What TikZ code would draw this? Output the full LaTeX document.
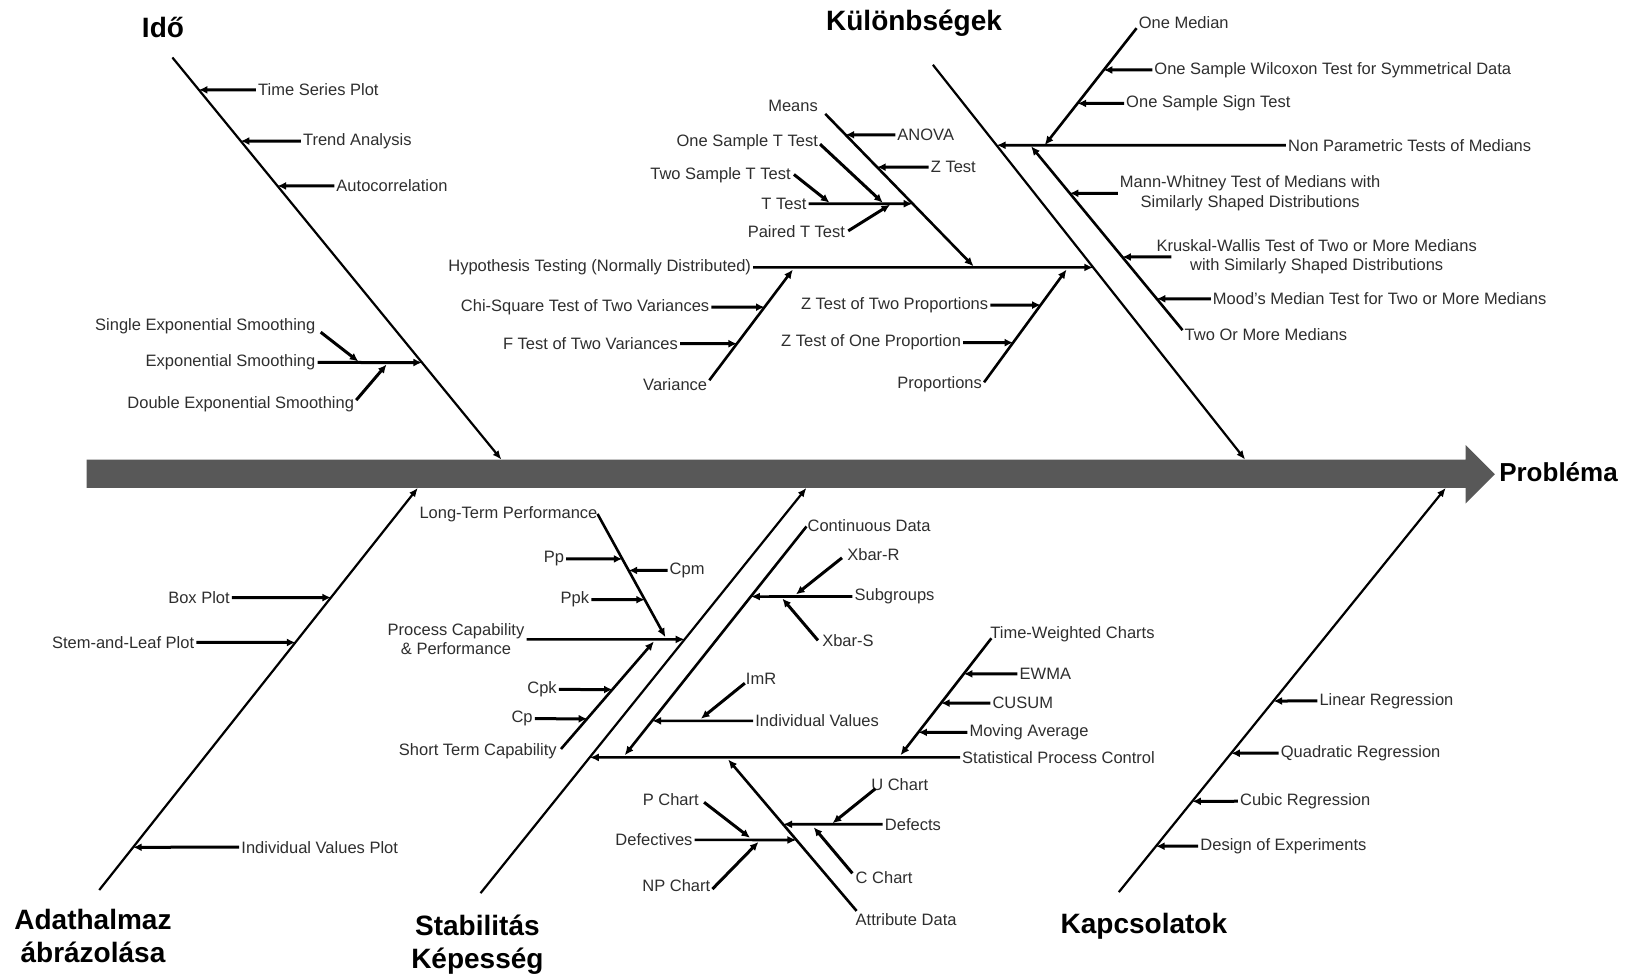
\documentclass[tikz,border=0pt]{standalone}
\usepackage{fontspec}
\setmainfont{Liberation Sans}
\usetikzlibrary{arrows.meta}

\definecolor{spinegray}{RGB}{88,88,88}
\tikzset{
	bone/.style={line width=2.2pt, -{Latex[length=9pt,width=7.5pt]}},
	branch/.style={line width=2.6pt, -{Latex[length=9pt,width=8pt]}},
	leaf/.style={line width=3pt, -{Latex[length=8.5pt,width=8pt]}},
	lbl/.style={font=\fontsize{16.5}{19.5}\selectfont, text=black!82, inner sep=2pt},
	head/.style={font=\fontsize{28}{33}\selectfont\bfseries, inner sep=0pt, align=center},
}

\begin{document}
\begin{tikzpicture}[x=1.0446pt, y=-1.0446pt]
	\useasboundingbox (0,0) rectangle (1568,936);
	
	%Hauptpfeil
	\fill[spinegray] (83,440) -- (1403,440) -- (1403,426) -- (1431,454) -- (1403,482) -- (1403,467) -- (83,467) -- cycle;
	\node[head, anchor=west, font=\fontsize{26}{30}\selectfont\bfseries] (prob) at (1435,452) {Probléma};
	
	%Idő
	\coordinate (i1) at (165,55);
	\coordinate (i2) at (480,440);
	\draw[bone] (i1) -- (i2);
	\node[head] (ido) at (156,26) {Idő};
	\foreach \n/\x/\y/\t in {ts/245/86/Time Series Plot, ta/288/135/Trend Analysis, ac/320/178/Autocorrelation} {
		\node[lbl, anchor=west] (\n) at (\x,\y) {\t};
		\draw[leaf] (\n.west) -- (intersection of i1--i2 and \n.west--\n.east);
	}
	\node[lbl, anchor=east] (es) at (304,347) {Exponential Smoothing};
	\draw[leaf] (es.east) -- (intersection of i1--i2 and es.west--es.east);
	\node[lbl, anchor=east] (ses) at (304,312) {Single Exponential Smoothing};
	\node[lbl, anchor=east] (des) at (341,387) {Double Exponential Smoothing};
	\coordinate (ses1) at (307,318);
	\coordinate (ses2) at (343,346);
	\coordinate (des1) at (341,383);
	\coordinate (des2) at (370,349);
	\draw[leaf] (ses1) -- (ses2);
	\draw[leaf] (des1) -- (des2);
	
	%Különbségek
	\coordinate (k1) at (893,62);
	\coordinate (k2) at (1192,440);
	\draw[bone] (k1) -- (k2);
	\node[head] (kul) at (875,22) {Különbségek};
	
	\node[lbl, anchor=west] (np) at (1231,139) {Non Parametric Tests of Medians};
	\draw[branch] (np.west) -- (intersection of k1--k2 and np.west--np.east);
	\coordinate (om1) at (1088,27);
	\coordinate (om2) at (1000,139);
	\node[lbl, anchor=west] (om) at (1088,22) {One Median};
	\draw[branch] (om1) -- (om2);
	\node[lbl, anchor=west] (wil) at (1103,67) {One Sample Wilcoxon Test for Symmetrical Data};
	\node[lbl, anchor=west] (sgn) at (1076,99) {One Sample Sign Test};
	\foreach \n in {wil,sgn}
		\draw[leaf] (\n.west) -- (intersection of om1--om2 and \n.west--\n.east);
	\coordinate (tm1) at (1132,316);
	\coordinate (tm2) at (987,140);
	\node[lbl, anchor=west] (tm) at (1132,320) {Two Or More Medians};
	\draw[branch] (tm1) -- (tm2);
	\node[lbl, anchor=west, align=center] (mw) at (1070,185) {Mann-Whitney Test of Medians with\\Similarly Shaped Distributions};
	\node[lbl, anchor=west, align=center] (kw) at (1105,246) {Kruskal-Wallis Test of Two or More Medians\\with Similarly Shaped Distributions};
	\node[lbl, anchor=west] (mood) at (1159,286) {Mood's Median Test for Two or More Medians};
	\draw[leaf] (mw.west) -- (intersection of tm1--tm2 and mw.west--mw.east);
	\draw[leaf] ([xshift=17pt]kw.west) -- (intersection of tm1--tm2 and kw.west--kw.east);
	\draw[leaf] (mood.west) -- (intersection of tm1--tm2 and mood.west--mood.east);
	
	\node[lbl, anchor=east] (ht) at (721,256) {Hypothesis Testing (Normally Distributed)};
	\draw[branch] (ht.east) -- (intersection of k1--k2 and ht.west--ht.east);
	
	\coordinate (me1) at (790,109);
	\coordinate (me2) at (932,255);
	\node[lbl, anchor=east] (me) at (785,101) {Means};
	\draw[branch] (me1) -- (me2);
	\node[lbl, anchor=west] (anova) at (857,129) {ANOVA};
	\node[lbl, anchor=west] (zt) at (889,160) {Z Test};
	\foreach \n in {anova,zt}
		\draw[leaf] (\n.west) -- (intersection of me1--me2 and \n.west--\n.east);
	\node[lbl, anchor=east] (tt) at (774,195) {T Test};
	\draw[branch] (tt.east) -- (intersection of me1--me2 and tt.west--tt.east);
	\node[lbl, anchor=east] (ost) at (785,136) {One Sample T Test};
	\node[lbl, anchor=east] (tst) at (759,168) {Two Sample T Test};
	\node[lbl, anchor=east] (pt) at (811,222) {Paired T Test};
	\coordinate (ost1) at (785,138);
	\coordinate (ost2) at (845,194);
	\coordinate (tst1) at (760,167);
	\coordinate (tst2) at (794,194);
	\coordinate (pt1) at (812,221);
	\coordinate (pt2) at (852,196);
	\foreach \n in {ost,tst,pt}
		\draw[leaf] (\n1) -- (\n2);
	
	\coordinate (va1) at (679,364);
	\coordinate (va2) at (759,258);
	\node[lbl, anchor=east] (va) at (679,368) {Variance};
	\draw[branch] (va1) -- (va2);
	\node[lbl, anchor=east] (chi) at (681,294) {Chi-Square Test of Two Variances};
	\node[lbl, anchor=east] (ft) at (651,329) {F Test of Two Variances};
	\foreach \n in {chi,ft}
		\draw[leaf] (\n.east) -- (intersection of va1--va2 and \n.west--\n.east);
	
	\coordinate (pr1) at (942,366);
	\coordinate (pr2) at (1021,258);
	\node[lbl, anchor=east] (pr) at (942,368) {Proportions};
	\draw[branch] (pr1) -- (pr2);
	\node[lbl, anchor=east] (z2) at (948,292) {Z Test of Two Proportions};
	\node[lbl, anchor=east] (z1) at (922,328) {Z Test of One Proportion};
	\foreach \n in {z2,z1}
		\draw[leaf] (\n.east) -- (intersection of pr1--pr2 and \n.west--\n.east);
	
	%Adathalmaz
	\coordinate (a1) at (95,852);
	\coordinate (a2) at (400,467);
	\draw[bone] (a1) -- (a2);
	\node[head] (adat) at (89,896) {Adathalmaz\\ábrázolása};
	\foreach \n/\x/\y/\t in {bp/222/572/Box Plot, sl/188/615/Stem-and-Leaf Plot} {
		\node[lbl, anchor=east] (\n) at (\x,\y) {\t};
		\draw[leaf] (\n.east) -- (intersection of a1--a2 and \n.west--\n.east);
	}
	\node[lbl, anchor=west] (ivp) at (229,811) {Individual Values Plot};
	\draw[leaf] (ivp.west) -- (intersection of a1--a2 and ivp.west--ivp.east);
	
	%Stabilitás
	\coordinate (s1) at (460,855);
	\coordinate (s2) at (772,467);
	\draw[bone] (s1) -- (s2);
	\node[head] (stab) at (457,904) {Stabilitás\\Képesség};
	\node[lbl, anchor=east, align=center] (pcp) at (504,612) {Process Capability\\\& Performance};
	\draw[branch] (pcp.east) -- (intersection of s1--s2 and pcp.west--pcp.east);
	
	\coordinate (lt1) at (572,492);
	\coordinate (lt2) at (637,610);
	\node[lbl, anchor=east] (lt) at (574,492) {Long-Term Performance};
	\draw[branch] (lt1) -- (lt2);
	\foreach \n/\x/\y/\t in {pp/542/535/Pp, ppk/566/574/Ppk} {
		\node[lbl, anchor=east] (\n) at (\x,\y) {\t};
		\draw[leaf] (\n.east) -- (intersection of lt1--lt2 and \n.west--\n.east);
	}
	\node[lbl, anchor=west] (cpm) at (639,546) {Cpm};
	\draw[leaf] (cpm.west) -- (intersection of lt1--lt2 and cpm.west--cpm.east);
	
	\coordinate (st1) at (537,717);
	\coordinate (st2) at (626,614);
	\node[lbl, anchor=east] (st) at (535,719) {Short Term Capability};
	\draw[branch] (st1) -- (st2);
	\foreach \n/\x/\y/\t in {cpk/535/660/Cpk, cp/512/688/Cp} {
		\node[lbl, anchor=east] (\n) at (\x,\y) {\t};
		\draw[leaf] (\n.east) -- (intersection of st1--st2 and \n.west--\n.east);
	}
	
	\node[lbl, anchor=west] (spc) at (919,725) {Statistical Process Control};
	\draw[branch] (spc.west) -- (intersection of s1--s2 and spc.west--spc.east);
	
	\coordinate (cd1) at (772,504);
	\coordinate (cd2) at (598,723);
	\node[lbl, anchor=west] (cd) at (771,503) {Continuous Data};
	\draw[branch] (cd1) -- (cd2);
	\node[lbl, anchor=west] (sub) at (816,571) {Subgroups};
	\node[lbl, anchor=west] (iv) at (721,690) {Individual Values};
	\foreach \n in {sub,iv}
		\draw[branch] (\n.west) -- (intersection of cd1--cd2 and \n.west--\n.east);
	\node[lbl, anchor=west] (xr) at (809,531) {Xbar-R};
	\node[lbl, anchor=west] (xs) at (785,613) {Xbar-S};
	\node[lbl, anchor=west] (im) at (712,650) {ImR};
	\coordinate (xr1) at (806,534);
	\coordinate (xr2) at (762,569);
	\coordinate (xs1) at (783,613);
	\coordinate (xs2) at (749,573);
	\coordinate (im1) at (713,654);
	\coordinate (im2) at (671,688);
	\foreach \n in {xr,xs,im}
		\draw[leaf] (\n1) -- (\n2);
	
	\coordinate (tw1) at (949,611);
	\coordinate (tw2) at (862,723);
	\node[lbl, anchor=west] (tw) at (946,607) {Time-Weighted Charts};
	\draw[branch] (tw1) -- (tw2);
	\foreach \n/\x/\y/\t in {ewma/974/645/EWMA, cusum/948/673/CUSUM, mav/926/701/Moving Average} {
		\node[lbl, anchor=west] (\n) at (\x,\y) {\t};
		\draw[leaf] (\n.west) -- (intersection of tw1--tw2 and \n.west--\n.east);
	}
	
	\coordinate (ad1) at (820,872);
	\coordinate (ad2) at (697,727);
	\node[lbl, anchor=west] (ad) at (817,880) {Attribute Data};
	\draw[branch] (ad1) -- (ad2);
	\node[lbl, anchor=west] (dfc) at (845,789) {Defects};
	\draw[branch] (dfc.west) -- (intersection of ad1--ad2 and dfc.west--dfc.east);
	\node[lbl, anchor=east] (dfv) at (665,804) {Defectives};
	\draw[branch] (dfv.east) -- (intersection of ad1--ad2 and dfv.west--dfv.east);
	\node[lbl, anchor=west] (uc) at (832,751) {U Chart};
	\node[lbl, anchor=west] (cc) at (817,840) {C Chart};
	\node[lbl, anchor=east] (pc) at (671,765) {P Chart};
	\node[lbl, anchor=east] (npc) at (682,848) {NP Chart};
	\coordinate (uc1) at (838,755);
	\coordinate (uc2) at (797,788);
	\coordinate (cc1) at (816,836);
	\coordinate (cc2) at (779,792);
	\coordinate (pc1) at (674,768);
	\coordinate (pc2) at (718,802);
	\coordinate (npc1) at (682,851);
	\coordinate (npc2) at (726,806);
	\foreach \n in {uc,cc,pc,npc}
		\draw[leaf] (\n1) -- (\n2);
	
	%Kapcsolatok
	\coordinate (c1) at (1071,854);
	\coordinate (c2) at (1384,467);
	\draw[bone] (c1) -- (c2);
	\node[head] (kap) at (1095,887) {Kapcsolatok};
	\foreach \n/\x/\y/\t in {lin/1261/671/Linear Regression, quad/1224/721/Quadratic Regression, cub/1185/767/Cubic Regression, doe/1147/810/Design of Experiments} {
		\node[lbl, anchor=west] (\n) at (\x,\y) {\t};
		\draw[leaf] (\n.west) -- (intersection of c1--c2 and \n.west--\n.east);
	}
\end{tikzpicture}
\end{document}
